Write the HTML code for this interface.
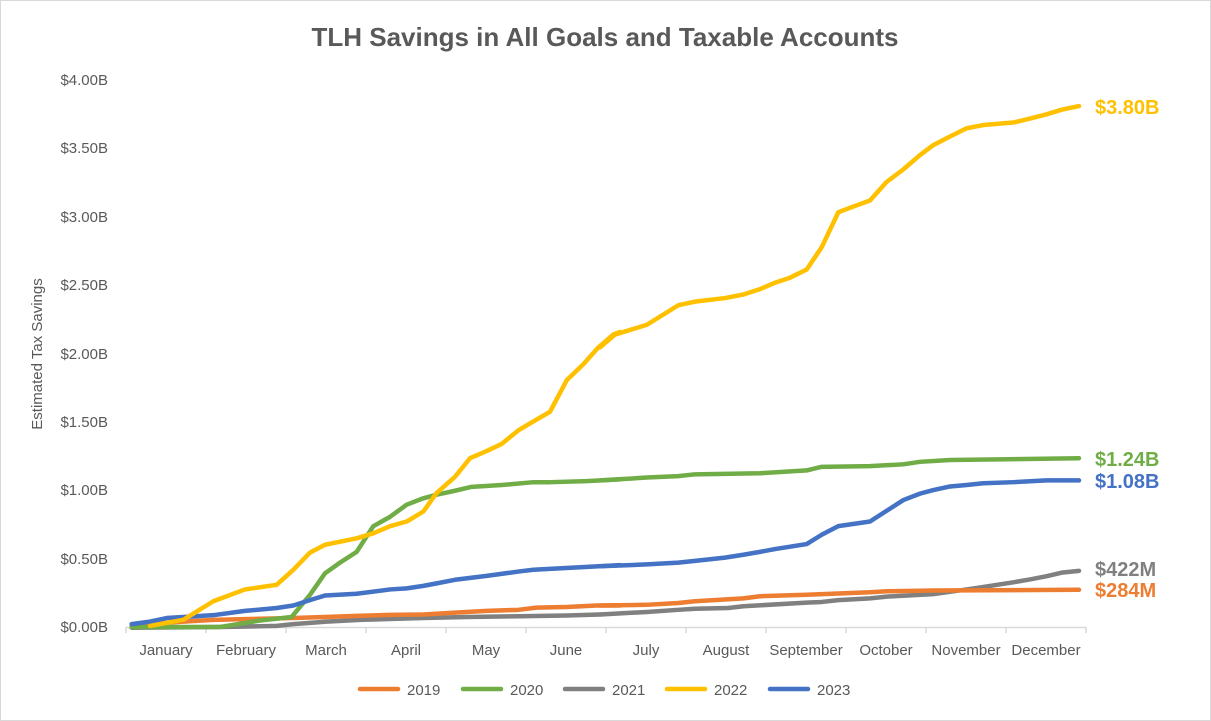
<!DOCTYPE html>
<html><head><meta charset="utf-8"><style>
html,body{margin:0;padding:0;background:#fff}
svg{display:block;font-family:"Liberation Sans",sans-serif}
</style></head><body>
<svg width="1211" height="721" viewBox="0 0 1211 721" xmlns="http://www.w3.org/2000/svg">
<rect x="0.5" y="0.5" width="1210" height="720" fill="#fff" stroke="#d9d9d9"/>
<text x="605" y="46" text-anchor="middle" font-size="26" font-weight="bold" fill="#595959">TLH Savings in All Goals and Taxable Accounts</text>
<g font-size="15" fill="#595959" text-anchor="end">
<text x="108" y="632">$0.00B</text><text x="108" y="564">$0.50B</text><text x="108" y="495">$1.00B</text><text x="108" y="427">$1.50B</text><text x="108" y="359">$2.00B</text><text x="108" y="290">$2.50B</text><text x="108" y="222">$3.00B</text><text x="108" y="153">$3.50B</text><text x="108" y="85">$4.00B</text>
</g>
<text transform="translate(42,354) rotate(-90)" text-anchor="middle" font-size="15" fill="#595959">Estimated Tax Savings</text>
<line x1="126" y1="627.5" x2="1086" y2="627.5" stroke="#d9d9d9" stroke-width="1.5"/>
<g stroke="#d9d9d9" stroke-width="1.5">
<line x1="126" y1="627" x2="126" y2="633"/><line x1="206" y1="627" x2="206" y2="633"/><line x1="286" y1="627" x2="286" y2="633"/><line x1="366" y1="627" x2="366" y2="633"/><line x1="446" y1="627" x2="446" y2="633"/><line x1="526" y1="627" x2="526" y2="633"/><line x1="606" y1="627" x2="606" y2="633"/><line x1="686" y1="627" x2="686" y2="633"/><line x1="766" y1="627" x2="766" y2="633"/><line x1="846" y1="627" x2="846" y2="633"/><line x1="926" y1="627" x2="926" y2="633"/><line x1="1006" y1="627" x2="1006" y2="633"/><line x1="1086" y1="627" x2="1086" y2="633"/>
</g>
<g font-size="15" fill="#595959" text-anchor="middle">
<text x="166" y="655">January</text><text x="246" y="655">February</text><text x="326" y="655">March</text><text x="406" y="655">April</text><text x="486" y="655">May</text><text x="566" y="655">June</text><text x="646" y="655">July</text><text x="726" y="655">August</text><text x="806" y="655">September</text><text x="886" y="655">October</text><text x="966" y="655">November</text><text x="1046" y="655">December</text>
</g>
<g fill="none" stroke-width="4.5" stroke-linejoin="round" stroke-linecap="round">
<g transform="translate(120,80) scale(0.33333,0.3575)">
<polyline vector-effect="non-scaling-stroke" stroke="#808080" points="35,1532 300,1530 470,1527 520,1522 620,1515 720,1510 910,1505 1040,1502 1200,1500 1340,1498 1440,1495"/>
<polyline vector-effect="non-scaling-stroke" stroke="#ED7D31" points="35,1525 190,1515 280,1510 420,1507 520,1505 615,1502 710,1499 810,1496 910,1495 1005,1490 1100,1485 1195,1482 1250,1476 1340,1474 1430,1470 1500,1470"/>
<polyline vector-effect="non-scaling-stroke" stroke="#70AD47" points="35,1530 300,1530 420,1512 515,1502 570,1440 615,1380 660,1350 710,1320 760,1248 810,1222 860,1188 910,1170 950,1160 1000,1150 1055,1138 1145,1133 1240,1125 1290,1125 1400,1122 1500,1117"/>
<polyline vector-effect="non-scaling-stroke" stroke="#4472C4" points="35,1522 90,1515 140,1505 190,1502 280,1497 375,1485 470,1477 520,1470 570,1455 615,1442 710,1437 810,1425 860,1422 910,1415 950,1408 1005,1398 1100,1387 1195,1375 1240,1370 1500,1357"/>
<polyline vector-effect="non-scaling-stroke" stroke="#FFC000" points="90,1527 190,1510 280,1458 375,1425 470,1412 520,1370 570,1322 615,1300 710,1282 760,1268 810,1248 860,1235 910,1207 950,1155 1005,1110 1050,1058 1100,1038 1145,1018 1195,980 1240,955 1290,928 1340,840 1390,795 1435,748 1480,712 1500,705"/>
</g>
<g transform="translate(600,80) scale(0.33333,0.3575)">
<polyline vector-effect="non-scaling-stroke" stroke="#808080" points="0,1495 140,1488 235,1482 285,1479 385,1477 430,1472 620,1462 665,1460 715,1455 810,1450 860,1445 1000,1438 1100,1425 1150,1418 1240,1405 1290,1397 1340,1388 1385,1378 1437,1373"/>
<polyline vector-effect="non-scaling-stroke" stroke="#ED7D31" points="0,1470 140,1468 235,1463 285,1458 430,1450 480,1444 620,1440 810,1433 860,1430 1000,1428 1437,1426"/>
<polyline vector-effect="non-scaling-stroke" stroke="#70AD47" points="0,1120 140,1112 235,1108 285,1103 480,1100 620,1092 665,1082 810,1080 910,1075 960,1068 1050,1063 1437,1058"/>
<polyline vector-effect="non-scaling-stroke" stroke="#4472C4" points="0,1360 140,1355 235,1350 285,1345 375,1336 430,1328 480,1320 525,1312 620,1298 665,1272 715,1248 810,1235 860,1205 910,1175 960,1157 1000,1147 1050,1137 1100,1133 1150,1128 1240,1125 1340,1120 1437,1120"/>
<polyline vector-effect="non-scaling-stroke" stroke="#FFC000" points="0,748 45,712 140,685 235,630 285,620 375,610 430,600 480,585 525,567 570,553 620,530 665,468 715,370 760,354 810,337 860,285 910,250 960,210 1000,182 1050,158 1100,135 1150,126 1240,119 1290,108 1340,96 1385,83 1437,73"/>
</g>
</g>
<g font-size="20" font-weight="bold">
<text x="1095" y="114" fill="#FFC000">$3.80B</text>
<text x="1095" y="466" fill="#70AD47">$1.24B</text>
<text x="1095" y="488" fill="#4472C4">$1.08B</text>
<text x="1095" y="576" fill="#808080">$422M</text>
<text x="1095" y="597" fill="#ED7D31">$284M</text>
</g>
<g stroke-width="4.5" stroke-linecap="round">
<line x1="360" y1="689" x2="398" y2="689" stroke="#ED7D31"/>
<line x1="463" y1="689" x2="501" y2="689" stroke="#70AD47"/>
<line x1="565" y1="689" x2="603" y2="689" stroke="#808080"/>
<line x1="667" y1="689" x2="705" y2="689" stroke="#FFC000"/>
<line x1="770" y1="689" x2="808" y2="689" stroke="#4472C4"/>
</g>
<g font-size="15" fill="#595959">
<text x="407" y="695">2019</text><text x="510" y="695">2020</text><text x="612" y="695">2021</text><text x="714" y="695">2022</text><text x="817" y="695">2023</text>
</g>
</svg>
</body></html>
